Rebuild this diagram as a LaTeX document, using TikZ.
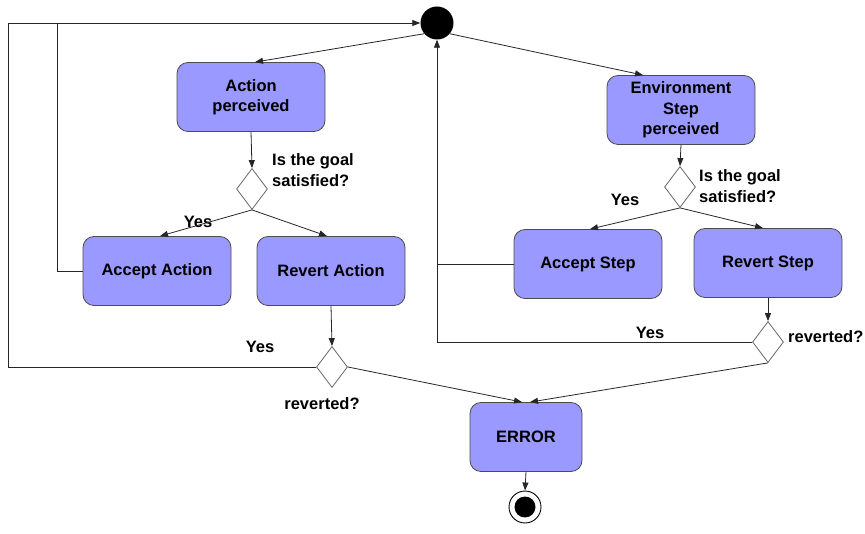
\documentclass[tikz,border=0pt]{standalone}
\usepackage{fontspec}
\setmainfont{Liberation Sans}
\usetikzlibrary{arrows.meta,shapes.geometric}
\definecolor{actfill}{RGB}{153,153,255}

\begin{document}
\begin{tikzpicture}[
    x=1pt, y=-1pt,
    font=\fontsize{16.5}{20.5}\selectfont\bfseries,
    activity/.style={
      rectangle,
      rounded corners=11pt,
      draw=black!70,
      fill=actfill,
      minimum width=148pt,
      minimum height=69pt,
      align=center,
      line width=0.8pt
    },
    decision/.style={
      diamond,
      draw=black!60,
      fill=white,
      inner sep=0pt,
      minimum width=31pt,
      minimum height=41pt,
      line width=0.8pt
    },
    flow/.style={-{Triangle[length=8pt,width=6pt]}, draw=black!85, line width=0.8pt},
    link/.style={draw=black!85, line width=0.8pt},
    lbl/.style={inner sep=0pt, align=left}
  ]
  \useasboundingbox (0,0) rectangle (865,534);

  \node[circle, fill=black, minimum size=33pt, inner sep=0pt] (start) at (437,23) {};

  \node[activity] (actionperceived) at (251,97) {Action\\perceived};
  \node[decision] (goalA) at (252,189) {};
  \node[activity] (acceptaction) at (157,271) {Accept Action};
  \node[activity] (revertaction) at (331,271) {Revert Action};
  \node[decision] (revertedA) at (332,367) {};

  \node[activity] (envstep) at (681,110) {Environment\\Step\\perceived};
  \node[decision] (goalB) at (680,187) {};
  \node[activity] (acceptstep) at (588,264) {Accept Step};
  \node[activity] (revertstep) at (768,263) {Revert Step};
  \node[decision] (revertedB) at (768,342) {};

  \node[activity, minimum width=112pt] (error) at (526,437) {ERROR};
  \node[circle, draw=black, line width=0.9pt, minimum size=32pt, inner sep=0pt] (stop) at (525,507) {};
  \node[circle, fill=black, minimum size=21pt, inner sep=0pt] (stopdot) at (stop) {};

  \node[lbl, anchor=west] (goalAtext) at (272,170) {Is the goal\\satisfied?};
  \node[lbl, anchor=west] (goalBtext) at (699,186) {Is the goal\\satisfied?};
  \node[lbl] (yesA) at (198,222) {Yes};
  \node[lbl] (yesB) at (625,200) {Yes};
  \node[lbl] (yesC) at (260,347) {Yes};
  \node[lbl] (yesD) at (650,333) {Yes};
  \node[lbl] (revertedAtext) at (322,404) {reverted?};
  \node[lbl, anchor=west] (revertedBtext) at (788,337) {reverted?};

  \coordinate (loopouter) at (8,23);
  \coordinate (loopinner) at (57,23);

  \draw[flow] (start.220) -- ([xshift=4pt]actionperceived.north);
  \draw[flow] (start.-40) -- ([xshift=-38pt]envstep.north);
  \draw[flow] (actionperceived.south) -- (goalA.north);
  \draw[flow] (goalA.south) -- ([xshift=3pt]acceptaction.north);
  \draw[flow] (goalA.south) -- ([xshift=-4pt]revertaction.north);
  \draw[flow] (revertaction.south) -- (revertedA.north);
  \draw[flow] (revertedA.east) -- ([xshift=-4pt]error.north);
  \draw[flow] (envstep.south) -- (goalB.north);
  \draw[flow] (goalB.south) -- ([xshift=2pt]acceptstep.north);
  \draw[flow] (goalB.south) -- ([xshift=-5pt]revertstep.north);
  \draw[flow] (revertstep.south) -- (revertedB.north);
  \draw[flow] (revertedB.south) -- ([xshift=4pt]error.north);
  \draw[flow] (error.south) -- (stop.north);

  \draw[link] (acceptaction.west) -| (loopinner);
  \draw[flow] (revertedA.west) -| (loopouter) -- (start.west);
  \draw[link] (acceptstep.west) -- (acceptstep.west -| start.south);
  \draw[flow] (revertedB.west) -- (revertedB.west -| start.south) -- (start.south);
\end{tikzpicture}
\end{document}
